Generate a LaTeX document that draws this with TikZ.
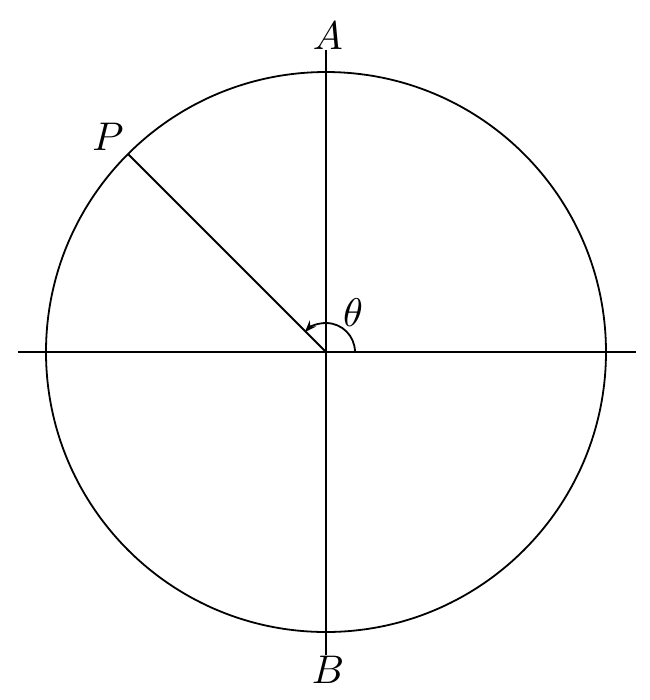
\documentclass[tikz,border=0pt]{standalone}
\usetikzlibrary{arrows.meta}
\begin{document}
\begin{tikzpicture}[x=0.25pt,y=-0.25pt,line width=0.45pt,
  lbl/.style={inner sep=0pt,font=\normalsize}]
\useasboundingbox (0,0) rectangle (650,700);
\coordinate (O) at (326,352);
\coordinate (top) at (326,50);
\coordinate (bot) at (326,655);
\coordinate (lft) at (18,352);
\coordinate (rgt) at (636,352);
\coordinate (Pp) at (128,154);
\draw (O) circle[radius=70pt];
\draw (top) -- (bot);
\draw (lft) -- (rgt);
\draw (O) -- (Pp);
\draw[-{Stealth[length=3pt,width=2.2pt]}] ([shift={(0:7.25pt)}]O) arc[start angle=0,end angle=137,radius=7.25pt];
\node[lbl] (A) at (328,36) {$A$};
\node[lbl] (B) at (328,670) {$B$};
\node[lbl] (P) at (108,137) {$P$};
\node[lbl] (th) at (353,313) {$\theta$};
\end{tikzpicture}
\end{document}
